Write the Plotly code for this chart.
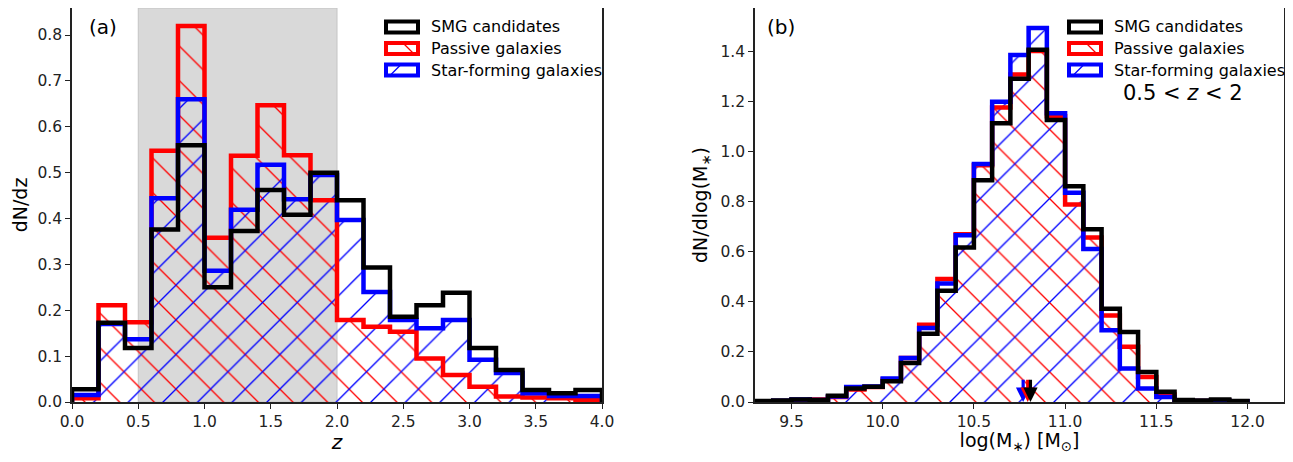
import numpy as np
import plotly.graph_objects as go

# ---------------- Data ----------------
# Panel (a): redshift distributions, bins of 0.2 from 0 to 4
z_edges = [0.0, 0.2, 0.4, 0.6, 0.8, 1.0, 1.2, 1.4, 1.6, 1.8, 2.0,
           2.2, 2.4, 2.6, 2.8, 3.0, 3.2, 3.4, 3.6, 3.8, 4.0]
z_smg = [0.028, 0.173, 0.118, 0.376, 0.560, 0.250, 0.373, 0.462, 0.408, 0.500,
         0.440, 0.293, 0.186, 0.211, 0.238, 0.118, 0.070, 0.026, 0.019, 0.026]
z_passive = [0.008, 0.211, 0.174, 0.548, 0.820, 0.358, 0.537, 0.647, 0.538, 0.440,
             0.179, 0.164, 0.153, 0.095, 0.059, 0.033, 0.012, 0.010, 0.008, 0.005]
z_sf = [0.015, 0.170, 0.137, 0.444, 0.660, 0.286, 0.419, 0.517, 0.442, 0.495,
        0.397, 0.240, 0.179, 0.161, 0.179, 0.092, 0.063, 0.019, 0.013, 0.013]

# Panel (b): stellar mass distributions (0.5 < z < 2), bins of 0.1
m_edges = [9.3, 9.4, 9.5, 9.6, 9.7, 9.8, 9.9, 10.0, 10.1, 10.2, 10.3, 10.4,
           10.5, 10.6, 10.7, 10.8, 10.9, 11.0, 11.1, 11.2, 11.3, 11.4, 11.5,
           11.6, 11.7, 11.8, 11.9, 12.0]
m_smg = [0.004, 0.006, 0.010, 0.008, 0.025, 0.054, 0.061, 0.083, 0.156, 0.272,
         0.444, 0.616, 0.885, 1.112, 1.290, 1.405, 1.125, 0.861, 0.689, 0.372,
         0.279, 0.120, 0.041, 0.008, 0.006, 0.010, 0.004]
m_passive = [0.002, 0.004, 0.008, 0.010, 0.020, 0.050, 0.060, 0.090, 0.176, 0.308,
             0.491, 0.669, 0.945, 1.175, 1.307, 1.400, 1.140, 0.788, 0.656, 0.345,
             0.220, 0.100, 0.030, 0.006, 0.004, 0.006, 0.003]
m_sf = [0.002, 0.005, 0.010, 0.008, 0.022, 0.060, 0.062, 0.094, 0.176, 0.295,
        0.473, 0.665, 0.950, 1.198, 1.384, 1.492, 1.152, 0.835, 0.610, 0.286,
        0.134, 0.054, 0.020, 0.006, 0.004, 0.006, 0.003]

# median stellar masses (arrows)
median_labels = ["Star-forming galaxies", "Passive galaxies", "SMG candidates"]
median_mass = [10.77, 10.795, 10.81]

legend_labels = ["SMG candidates", "Passive galaxies", "Star-forming galaxies"]
z_band = [0.5, 2.0]

# ---------------- Figure ----------------
# The page body has an 8px margin, so the figure is a bit smaller than the
# window and all placements below are given in window pixels minus OFF.
OFF = 8
W, H = 1277, 446
ML, MR, MT, MB = 0, 0, 0, 52
fig = go.Figure()

FONT = "DejaVu Sans"
BLACK, RED, BLUE = "#000000", "#ff0000", "#0000ff"
HATCH_SIZE = 24.5
HATCH_SOL = 0.055
LW = 4.5


def px(xs):
    return (xs - OFF - ML) / (W - ML - MR)


def py(ys):
    return (H - MB - (ys - OFF)) / (H - MT - MB)


def add_hist(edges, vals, color, shape, xa, ya):
    e = np.array(edges, dtype=float)
    v = np.array(vals, dtype=float)
    centers = (e[:-1] + e[1:]) / 2
    widths = np.diff(e)
    fig.add_trace(go.Bar(
        x=centers, y=v, width=widths, xaxis=xa, yaxis=ya,
        marker=dict(color="rgba(0,0,0,0)", line=dict(width=0),
                    pattern=dict(shape=shape, fgcolor=color, fgopacity=1,
                                 bgcolor="rgba(0,0,0,0)",
                                 size=HATCH_SIZE, solidity=HATCH_SOL,
                                 fillmode="overlay")),
        showlegend=False, hoverinfo="skip"))


def add_step(edges, vals, color, xa, ya):
    e = list(edges)
    v = list(vals)
    xs = [e[0]] + e + [e[-1]]
    ys = [0] + v + [v[-1], 0]
    fig.add_trace(go.Scatter(
        x=xs, y=ys, mode="lines", line=dict(color=color, width=LW, shape="hv"),
        xaxis=xa, yaxis=ya, showlegend=False, hoverinfo="skip"))


# panel (a)
add_hist(z_edges, z_passive, RED, "\\", "x", "y")
add_hist(z_edges, z_sf, BLUE, "/", "x", "y")
add_step(z_edges, z_passive, RED, "x", "y")
add_step(z_edges, z_sf, BLUE, "x", "y")
add_step(z_edges, z_smg, BLACK, "x", "y")

# panel (b)
add_hist(m_edges, m_passive, RED, "\\", "x2", "y2")
add_hist(m_edges, m_sf, BLUE, "/", "x2", "y2")
add_step(m_edges, m_passive, RED, "x2", "y2")
add_step(m_edges, m_sf, BLUE, "x2", "y2")
add_step(m_edges, m_smg, BLACK, "x2", "y2")

# median arrows
arrow_colors = [BLUE, RED, BLACK]
for m, c in zip(median_mass, arrow_colors):
    fig.add_annotation(x=m, y=0.0, ax=m, ay=0.095, xref="x2", yref="y2",
                       axref="x2", ayref="y2", text="", showarrow=True,
                       arrowhead=2, arrowsize=0.9, arrowwidth=3.2,
                       arrowcolor=c, standoff=0)

# grey redshift band
fig.add_shape(type="rect", xref="x", yref="y domain", x0=z_band[0], x1=z_band[1],
              y0=0, y1=1, fillcolor="#d9d9d9", line=dict(color="#c4c4c4", width=1),
              layer="below")

axis_common = dict(showline=True, linecolor="#222222", linewidth=1.5, mirror=True,
                   ticks="outside", ticklen=5, tickwidth=1.3, tickcolor="#222222",
                   showgrid=False, zeroline=False, automargin=False,
                   tickfont=dict(family=FONT, size=15.5, color="#222222"))

fig.update_layout(
    width=W, height=H,
    margin=dict(l=ML, r=MR, t=MT, b=MB),
    plot_bgcolor="white", paper_bgcolor="white",
    barmode="overlay", bargap=0, showlegend=False,
    font=dict(family=FONT, color="#000000"),
    xaxis=dict(domain=[px(72), px(602)], range=[0, 4], dtick=0.5, tickformat=".1f",
               title=dict(text="<i>z</i>", font=dict(family=FONT, size=20), standoff=9),
               anchor="y", **axis_common),
    yaxis=dict(domain=[0, 1], range=[0, 0.859], dtick=0.1, tickformat=".1f",
               title=dict(text="dN/dz", font=dict(family=FONT, size=19), standoff=5),
               anchor="x", **axis_common),
    xaxis2=dict(domain=[px(755), px(1284)], range=[9.3, 12.2], tickvals=[9.5, 10.0, 10.5, 11.0, 11.5, 12.0],
                tickformat=".1f",
                title=dict(text="log(M<sub>∗</sub>) [M<sub>⊙</sub>]", font=dict(family=FONT, size=19), standoff=8),
                anchor="y2", **axis_common),
    yaxis2=dict(domain=[0, 1], range=[0, 1.572], dtick=0.2, tickformat=".1f",
                title=dict(text="dN/dlog(M<sub>∗</sub>)", font=dict(family=FONT, size=19), standoff=8),
                anchor="x2", **axis_common),
)

# panel labels
fig.add_annotation(x=px(87), y=py(27), xref="paper", yref="paper", text="(a)",
                   showarrow=False, xanchor="left", yanchor="middle",
                   font=dict(family=FONT, size=20, color="black"))
fig.add_annotation(x=px(765), y=py(27), xref="paper", yref="paper", text="(b)",
                   showarrow=False, xanchor="left", yanchor="middle",
                   font=dict(family=FONT, size=20, color="black"))

# manual legends
legend_cols = [BLACK, RED, BLUE]
legend_hatch = [None, "\\", "/"]
rows_y = [27, 48.5, 70]
for x0 in (386, 1069):
    for lab, col, hat, yc in zip(legend_labels, legend_cols, legend_hatch, rows_y):
        xa, xb = x0, x0 + 32
        ya, yb = yc - 5.5, yc + 5.5
        if hat == "\\":
            fig.add_shape(type="line", xref="paper", yref="paper",
                          x0=px(xa + 17), y0=py(ya), x1=px(xa + 28), y1=py(yb),
                          line=dict(color=col, width=1.2))
        elif hat == "/":
            fig.add_shape(type="line", xref="paper", yref="paper",
                          x0=px(xa + 4), y0=py(yb), x1=px(xa + 15), y1=py(ya),
                          line=dict(color=col, width=1.2))
        fig.add_shape(type="rect", xref="paper", yref="paper",
                      x0=px(xa), x1=px(xb), y0=py(yb), y1=py(ya),
                      line=dict(color=col, width=4), fillcolor="rgba(0,0,0,0)")
        fig.add_annotation(x=px(x0 + 43), y=py(yc), xref="paper", yref="paper",
                           text=lab, showarrow=False, xanchor="left", yanchor="middle",
                           font=dict(family=FONT, size=16, color="black"))

fig.add_annotation(x=px(1183), y=py(93), xref="paper", yref="paper",
                   text="0.5 < <i>z</i> < 2", showarrow=False,
                   xanchor="center", yanchor="middle",
                   font=dict(family=FONT, size=21, color="black"))

fig.write_html("out.html")
